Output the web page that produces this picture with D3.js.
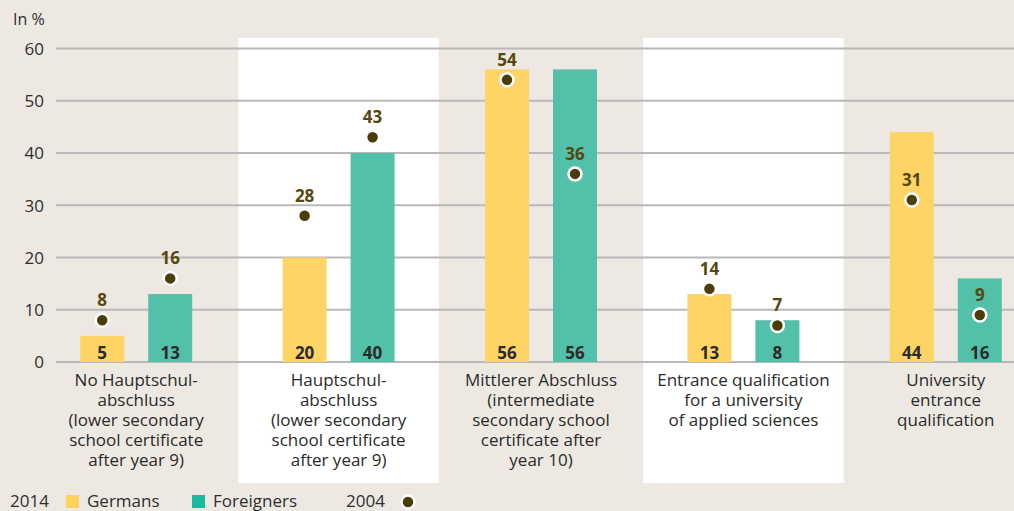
<!DOCTYPE html>
<html>
<head>
<meta charset="utf-8">
<script src="https://cdn.jsdelivr.net/npm/d3@7"></script>
<style>
  html, body { margin: 0; padding: 0; background: #ede9e2; }
  svg { display: block; }
  text { font-family: "Open Sans", "Noto Sans", sans-serif; }
</style>
</head>
<body>
<svg id="chart" width="1014" height="511"></svg>
<script>
const categories = [
  ["No Hauptschul-", "abschluss", "(lower secondary", "school certificate", "after year 9)"],
  ["Hauptschul-", "abschluss", "(lower secondary", "school certificate", "after year 9)"],
  ["Mittlerer Abschluss", "(intermediate", "secondary school", "certificate after", "year 10)"],
  ["Entrance qualification", "for a university", "of applied sciences"],
  ["University", "entrance", "qualification"]
];
const seriesNames = ["Germans", "Foreigners"];
const germans2014 = [5, 20, 56, 13, 44];
const foreigners2014 = [13, 40, 56, 8, 16];
const germans2004 = [8, 28, 54, 14, 31];
const foreigners2004 = [16, 43, 36, 7, 9];
const yTicks = [0, 10, 20, 30, 40, 50, 60];
const shadedGroups = [1, 3];

const colors = { Germans: "#fed466", Foreigners: "#53c1a9" };
const legendColors = { Germans: "#fdd35a", Foreigners: "#1bb99e" };
const dotColor = "#4a3d07";
const dotLabelColor = "#55480f";

const svg = d3.select("#chart");
const W = 1014, H = 511;

const idx = categories.map((d, i) => i);
const x0 = d3.scaleBand().domain(idx).range([35, 1047]).padding(0);
const x1 = d3.scaleBand().domain(seriesNames).range([-56, 56]).paddingInner(0.353).paddingOuter(0);
const y = d3.scaleLinear().domain([0, 60]).range([362, 48.5]);

const data = idx.map(i => ({
  i,
  values: [
    { s: "Germans", v: germans2014[i], old: germans2004[i] },
    { s: "Foreigners", v: foreigners2014[i], old: foreigners2004[i] }
  ]
}));

// background
svg.append("rect").attr("width", W).attr("height", H).attr("fill", "#ede9e2");

// white panels
svg.selectAll("rect.panel").data(shadedGroups).enter().append("rect")
  .attr("class", "panel")
  .attr("x", d => x0(d) + 1)
  .attr("width", x0.bandwidth() - 2)
  .attr("y", 38)
  .attr("height", 483 - 38)
  .attr("fill", "#ffffff");

// gridlines
svg.selectAll("line.grid").data(yTicks).enter().append("line")
  .attr("class", "grid")
  .attr("x1", 56).attr("x2", W)
  .attr("y1", d => y(d)).attr("y2", d => y(d))
  .attr("stroke", "#b8b8b8").attr("stroke-width", 2);

// y axis labels
const yAxis = d3.axisLeft(y).tickValues(yTicks).tickSize(0).tickPadding(0);
const gy = svg.append("g").attr("transform", "translate(44,0)").call(yAxis);
gy.select(".domain").remove();
gy.selectAll("text")
  .attr("font-family", "'Open Sans', sans-serif")
  .attr("font-size", 17).attr("fill", "#2e2e2e").attr("dy", "0.35em");

svg.append("text").attr("x", 13).attr("y", 25)
  .attr("font-size", 16).attr("fill", "#2e2e2e").text("In %");

// groups
const g = svg.selectAll("g.grp").data(data).enter().append("g")
  .attr("class", "grp")
  .attr("transform", d => `translate(${x0(d.i) + x0.bandwidth() / 2},0)`);

g.selectAll("rect.bar").data(d => d.values).enter().append("rect")
  .attr("class", "bar")
  .attr("x", d => x1(d.s))
  .attr("width", x1.bandwidth())
  .attr("y", d => y(d.v))
  .attr("height", d => y(0) - y(d.v))
  .attr("fill", d => colors[d.s]);

g.selectAll("text.val").data(d => d.values).enter().append("text")
  .attr("class", "val")
  .attr("x", d => x1(d.s) + x1.bandwidth() / 2)
  .attr("y", y(0) - 3)
  .attr("text-anchor", "middle")
  .attr("font-size", 17).attr("font-weight", 700)
  .attr("fill", "#2b2b2b")
  .text(d => d.v);

g.selectAll("circle.dot").data(d => d.values).enter().append("circle")
  .attr("class", "dot")
  .attr("cx", d => x1(d.s) + x1.bandwidth() / 2)
  .attr("cy", d => y(d.old))
  .attr("r", 6.5)
  .attr("fill", dotColor)
  .attr("stroke", "#ffffff").attr("stroke-width", 2.5);

g.selectAll("text.old").data(d => d.values).enter().append("text")
  .attr("class", "old")
  .attr("x", d => x1(d.s) + x1.bandwidth() / 2)
  .attr("y", d => y(d.old) - 14)
  .attr("text-anchor", "middle")
  .attr("font-size", 17).attr("font-weight", 700)
  .attr("fill", dotLabelColor)
  .text(d => d.old);

// category labels (one text per line)
g.selectAll("text.cat").data(d => categories[d.i]).enter().append("text")
  .attr("class", "cat")
  .attr("x", 0)
  .attr("y", (d, k) => 386 + k * 20)
  .attr("text-anchor", "middle")
  .attr("font-size", 17).attr("fill", "#2a2a2a")
  .text(d => d);

// legend
const lg = svg.append("g");
lg.append("text").attr("x", 10).attr("y", 507).attr("font-size", 17).attr("fill", "#2e2e2e").text("2014");
const legendItems = [
  { s: "Germans", x: 66 },
  { s: "Foreigners", x: 192 }
];
legendItems.forEach(it => {
  lg.append("rect").attr("x", it.x).attr("y", 495).attr("width", 13).attr("height", 13)
    .attr("fill", legendColors[it.s]);
  lg.append("text").attr("x", it.x + 21).attr("y", 507).attr("font-size", 17)
    .attr("fill", "#2e2e2e").text(it.s);
});
lg.append("text").attr("x", 346).attr("y", 507).attr("font-size", 17).attr("fill", "#2e2e2e").text("2004");
lg.append("circle").attr("cx", 408).attr("cy", 502).attr("r", 6.5)
  .attr("fill", dotColor).attr("stroke", "#ffffff").attr("stroke-width", 2.5);
</script>
</body>
</html>
